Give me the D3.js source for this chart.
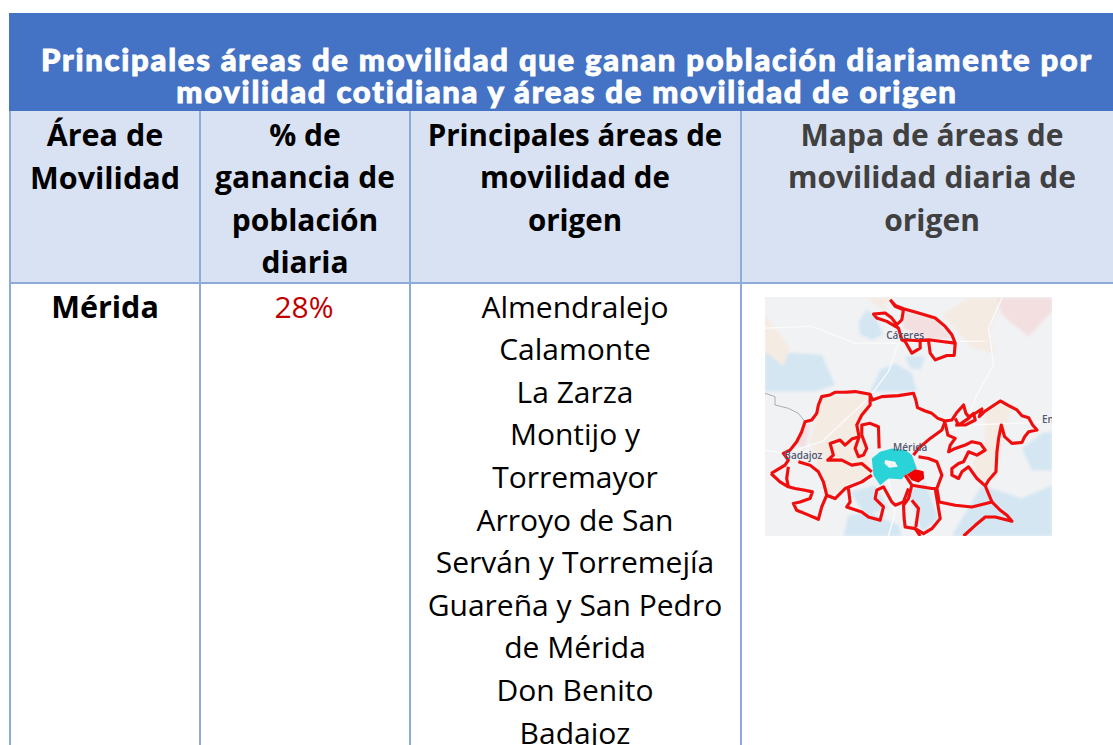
<!DOCTYPE html>
<html>
<head>
<meta charset="utf-8">
<script src="https://cdn.jsdelivr.net/npm/d3@7"></script>
<style>
html, body { margin: 0; padding: 0; background: #fff; overflow: hidden; }
svg { display: block; }
text { text-anchor: middle; dominant-baseline: central; }
</style>
</head>
<body>
<script>
const titleLines = [
    'Principales áreas de movilidad que ganan población diariamente por',
    'movilidad cotidiana y áreas de movilidad de origen'
];
const headers = [
    ['Área de', 'Movilidad'],
    ['% de', 'ganancia de', 'población', 'diaria'],
    ['Principales áreas de', 'movilidad de', 'origen'],
    ['Mapa de áreas de', 'movilidad diaria de', 'origen']
];
const areaNames = ['Mérida'];
const gains = ['28%'];
const origins = [
    'Almendralejo', 'Calamonte', 'La Zarza', 'Montijo y', 'Torremayor', 'Arroyo de San',
    'Serván y Torremejía', 'Guareña y San Pedro', 'de Mérida', 'Don Benito', 'Badajoz'
];

// map shapes, in units of the map picture
const mapBlue = [
    [[310,110],[335,75],[360,95],[385,150],[350,165],[315,150]],
    [[345,320],[375,255],[420,235],[470,265],[485,320]],
    [[450,215],[510,215],[495,255],[465,250]],
    [[800,490],[860,445],[890,440],[890,555],[830,555]],
    [[265,752],[280,690],[340,680],[430,720],[440,752]],
    [[460,620],[510,590],[550,700],[500,740]],
    [[285,620],[360,600],[400,670],[330,690]],
    [[30,200],[200,210],[240,300],[180,320],[30,320]],
    [[590,752],[680,600],[800,640],[890,600],[890,752]]
];
const mapPeach = [
    [[165,470],[200,340],[340,325],[345,350],[310,420],[330,480],[350,570],[270,600],[220,640],[190,550]],
    [[690,380],[735,350],[770,370],[745,440],[725,580],[680,590],[650,530],[690,470]],
    [[560,90],[640,40],[740,40],[700,150],[720,205],[650,190],[600,130]],
    [[30,90],[60,130],[105,190],[85,245],[30,200]],
    [[335,40],[400,40],[390,80]]
];
const mapPink = [
    [[445,80],[540,100],[590,160],[520,165],[445,130]],
    [[725,40],[890,40],[890,80],[820,155],[740,90]],
    [[125,480],[150,415],[165,420],[150,490]]
];
const mapRoads = [
    [[30,130],[170,125],[300,175],[430,175],[590,170],[690,170]],
    [[430,175],[400,260],[340,340],[200,470],[90,505],[30,495]],
    [[740,40],[700,130],[715,240],[660,340],[640,400]],
    [[640,420],[780,415],[890,410]],
    [[480,500],[570,440],[640,420]],
    [[400,580],[420,680],[400,752]]
];
const mapBorder = [[30,325],[60,335],[60,360],[100,370],[130,385],[150,410]];
const mapOutlines = [
    // Caceres
    [[405,45],[420,62],[445,72],[490,85],[540,100],[570,125],[590,150],[600,175],[597,212],[575,212],[540,225],[525,205],[520,168],[495,165],[495,190],[470,205],[450,170],[440,165],[430,130],[395,110],[365,100],[355,88],[390,85],[410,100],[425,120],[440,105],[445,75],[420,65],[405,45]],
    [[445,165],[490,168],[520,165],[560,170],[600,175]],
    // outer ring north
    [[48,565],[65,555],[90,540],[100,525],[85,505],[105,495],[125,470],[140,440],[150,410],[170,405],[185,385],[190,360],[200,335],[225,330],[240,322],[270,322],[300,320],[345,328],[352,345],[380,335],[430,332],[475,325],[482,345],[487,368],[510,378],[530,385],[548,400],[570,408],[590,405],[603,385],[625,360],[632,385],[640,395],[660,385],[680,372],[672,395],[690,378],[735,348],[760,362],[785,375],[800,392],[820,398],[832,420],[845,435],[820,440],[808,455],[800,472],[770,475],[748,455],[738,420],[730,460],[725,500],[722,560],[700,585],[690,602]],
    [[600,400],[610,420],[640,400],[655,385],[660,405],[630,420],[600,420]],
    // east inner
    [[570,408],[560,435],[525,460],[490,490],[475,510]],
    [[570,415],[578,450],[600,460],[585,480],[580,500],[600,490],[630,480],[650,470],[675,475],[690,495],[665,510],[640,500],[625,530],[610,535],[590,550],[590,570],[610,580],[620,560],[640,545],[665,580],[690,602],[710,650]],
    [[490,515],[520,520],[545,530],[560,570],[545,610],[552,650],[600,660],[650,665],[710,650],[735,675],[755,690],[770,708],[720,695],[690,695],[660,720],[625,752]],
    // south mid
    [[450,570],[470,600],[460,640],[445,660],[447,700],[450,725],[480,730],[495,752]],
    [[470,645],[490,670],[482,725]],
    [[470,600],[530,610],[540,610],[555,700],[530,730],[505,745],[480,730]],
    // west
    [[48,565],[75,590],[100,605],[120,610],[150,615],[172,620],[165,640],[135,650],[115,655],[125,675],[150,685],[190,702],[200,665],[215,630],[240,640],[270,610],[320,590],[350,570]],
    [[100,545],[95,580],[100,605]],
    [[130,530],[165,540],[190,560],[205,590],[215,630]],
    [[345,328],[345,360],[320,390],[305,420],[312,455],[290,462],[270,480],[255,465],[225,475],[235,510],[218,525],[260,525],[290,540],[320,535],[350,560]],
    [[312,455],[300,490],[310,515],[325,510],[335,490],[320,450],[320,420],[345,415],[370,425],[372,490]],
    // south of the cyan area
    [[280,610],[285,650],[275,665],[320,680],[340,695],[375,705],[385,665],[360,640],[365,615],[385,605],[410,650],[420,660],[445,650],[460,610]]
];
const mapCyan = [[350,520],[375,500],[410,490],[450,495],[470,510],[485,550],[450,570],[440,582],[400,580],[375,600],[355,570]];
const mapHole = [[390,525],[420,530],[428,545],[402,548],[388,535]];
const mapRedBlob = [[455,568],[480,552],[505,558],[507,580],[490,592],[470,585]];
const mapLabels = [['Cáceres',450,150],['Mérida',465,485],['Badajoz',145,510],['En',878,403]];

const colEdges = [10, 200, 410, 741, 1125];
const bandTop = 13, titleBottom = 111, headBottom = 283;
const lineStep = 42.6;

const svg = d3.select('body').append('svg').attr('width', 1113).attr('height', 745);
const font = '"Open Sans", "Noto Sans", sans-serif';
const colCenters = [105, 305, 575, 932];
const headSizes = [30.5, 30, 29.5, 30];
const lineY = (top, i) => top + i * lineStep;

svg.append('rect').attr('x', colEdges[0]).attr('y', titleBottom)
    .attr('width', 1113).attr('height', headBottom - titleBottom).attr('fill', '#d9e2f3');
svg.append('rect').attr('x', colEdges[0] - 1).attr('y', bandTop)
    .attr('width', 1113).attr('height', titleBottom - bandTop).attr('fill', '#4472c4');

// cell lines
svg.selectAll('line.col').data(colEdges.slice(0, 4)).enter().append('line')
    .attr('class', 'col')
    .attr('x1', d => d).attr('x2', d => d)
    .attr('y1', titleBottom).attr('y2', 745)
    .attr('stroke', '#8eaadb').attr('stroke-width', 2);
svg.append('line').attr('x1', colEdges[0]).attr('x2', 1113)
    .attr('y1', headBottom).attr('y2', headBottom)
    .attr('stroke', '#8eaadb').attr('stroke-width', 2);

svg.selectAll('text.title').data(titleLines).enter().append('text')
    .attr('class', 'title')
    .attr('x', 567).attr('y', (d, i) => 59 + i * 32)
    .attr('font-family', 'Lato, sans-serif').attr('font-weight', 900)
    .attr('font-size', 31).attr('letter-spacing', 1.74)
    .attr('stroke', '#fff').attr('stroke-width', 0.9)
    .attr('fill', '#fff').text(d => d);

headers.forEach((lines, c) => {
    svg.selectAll('text.head' + c).data(lines).enter().append('text')
        .attr('class', 'head' + c)
        .attr('x', colCenters[c]).attr('y', (d, i) => lineY(134, i))
        .attr('font-family', font).attr('font-weight', 700).attr('font-size', headSizes[c])
        .attr('fill', c === 3 ? '#404040' : '#000').text(d => d);
});

svg.selectAll('text.area').data(areaNames).enter().append('text')
    .attr('class', 'area').attr('x', colCenters[0]).attr('y', 306)
    .attr('font-family', font).attr('font-weight', 700).attr('font-size', 30.5)
    .attr('fill', '#000').text(d => d);
svg.selectAll('text.gain').data(gains).enter().append('text')
    .attr('class', 'gain').attr('x', colCenters[1] - 1).attr('y', 306)
    .attr('font-family', font).attr('font-size', 30)
    .attr('fill', '#c00000').text(d => d);
svg.selectAll('text.origin').data(origins).enter().append('text')
    .attr('class', 'origin').attr('x', colCenters[2]).attr('y', (d, i) => lineY(306, i))
    .attr('font-family', font).attr('font-size', 30)
    .attr('fill', '#000').text(d => d);

// map picture
const mx = d3.scaleLinear().domain([30, 890]).range([765, 1052]);
const my = d3.scaleLinear().domain([37, 752]).range([297, 536]);
const path = d3.line().x(d => mx(d[0])).y(d => my(d[1]));
const closed = pts => path(pts) + 'Z';

const defs = svg.append('defs');
defs.append('clipPath').attr('id', 'mapClip').append('rect')
    .attr('x', mx(30)).attr('y', my(37))
    .attr('width', mx(890) - mx(30)).attr('height', my(752) - my(37));
defs.append('filter').attr('id', 'soft').append('feGaussianBlur').attr('stdDeviation', 1.8);
defs.append('filter').attr('id', 'fine').append('feGaussianBlur').attr('stdDeviation', 0.35);

const map = svg.append('g').attr('clip-path', 'url(#mapClip)');
map.append('rect').attr('x', mx(30)).attr('y', my(37))
    .attr('width', mx(890) - mx(30)).attr('height', my(752) - my(37)).attr('fill', '#f1f2f4');

const blurred = map.append('g').attr('filter', 'url(#soft)');
blurred.selectAll('path.blue').data(mapBlue).enter().append('path').attr('class', 'blue')
    .attr('d', closed).attr('fill', '#d3e6f2');
blurred.selectAll('path.peach').data(mapPeach).enter().append('path').attr('class', 'peach')
    .attr('d', closed).attr('fill', '#f4ebe2');
blurred.selectAll('path.pink').data(mapPink).enter().append('path').attr('class', 'pink')
    .attr('d', closed).attr('fill', '#f3dfe0');

const sharp = map.append('g').attr('filter', 'url(#fine)');
sharp.selectAll('path.road').data(mapRoads).enter().append('path').attr('class', 'road')
    .attr('d', path).attr('fill', 'none').attr('stroke', '#fbfbfb').attr('stroke-width', 1.3);
sharp.append('path').attr('d', path(mapBorder)).attr('fill', 'none')
    .attr('stroke', '#a9abad').attr('stroke-width', 1);
sharp.append('path').attr('d', closed(mapCyan)).attr('fill', '#2bd3d8');
sharp.append('path').attr('d', closed(mapHole)).attr('fill', '#f4f6f6');
sharp.append('path').attr('d', closed(mapRedBlob)).attr('fill', '#f00000');
sharp.selectAll('path.outline').data(mapOutlines).enter().append('path').attr('class', 'outline')
    .attr('d', path).attr('fill', 'none').attr('stroke', '#f00a0a')
    .attr('stroke-width', 3.1).attr('stroke-linejoin', 'round');
map.selectAll('text.place').data(mapLabels).enter().append('text').attr('class', 'place')
    .attr('x', d => mx(d[1])).attr('y', d => my(d[2]))
    .attr('font-family', font).attr('font-size', 10).attr('font-weight', 600)
    .attr('fill', '#53576f').text(d => d[0]);
</script>
</body>
</html>
